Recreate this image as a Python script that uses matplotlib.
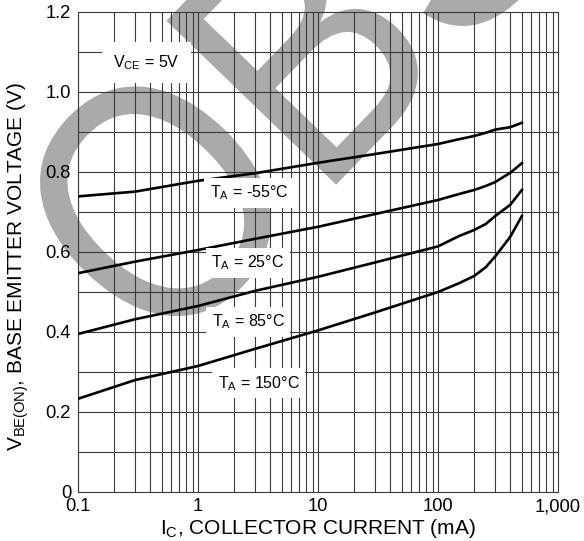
import matplotlib
matplotlib.use("Agg")
import matplotlib.pyplot as plt
import numpy as np
from matplotlib.textpath import TextPath
from matplotlib.patches import PathPatch
from matplotlib.transforms import Affine2D, IdentityTransform
from matplotlib.font_manager import FontProperties

plt.rcParams['font.family'] = ['Liberation Sans', 'DejaVu Sans']
plt.rcParams['mathtext.default'] = 'regular'

# collector current (mA)
ic = [0.1, 0.3, 1, 3, 10, 30, 100, 150, 200, 250, 300, 400, 500]
# V_BE(ON) (V) for each ambient temperature
vbe_m55 = [0.739, 0.751, 0.778, 0.797, 0.823, 0.845, 0.870, 0.882, 0.890, 0.898, 0.906, 0.912, 0.923]
vbe_25 = [0.547, 0.576, 0.605, 0.633, 0.663, 0.695, 0.730, 0.745, 0.755, 0.765, 0.775, 0.798, 0.822]
vbe_85 = [0.395, 0.432, 0.465, 0.503, 0.538, 0.574, 0.614, 0.640, 0.655, 0.670, 0.690, 0.718, 0.755]
vbe_150 = [0.233, 0.280, 0.315, 0.358, 0.404, 0.449, 0.500, 0.522, 0.540, 0.562, 0.589, 0.638, 0.690]

curves = [vbe_m55, vbe_25, vbe_85, vbe_150]
curve_labels = ['T$_A$ = -55°C', 'T$_A$ = 25°C', 'T$_A$ = 85°C', 'T$_A$ = 150°C']
label_pos = [(2.66, 0.7475), (2.6, 0.5725), (2.62, 0.425), (3.2, 0.272)]

xticks = [0.1, 1, 10, 100, 1000]
xticklabels = ['0.1', '1', '10', '100', '1,000']
yticks = [0, 0.2, 0.4, 0.6, 0.8, 1.0, 1.2]
yticklabels = ['0', '0.2', '0.4', '0.6', '0.8', '1.0', '1.2']

fig = plt.figure(figsize=(5.84, 5.41), dpi=100)
ax = fig.add_axes([78 / 584, 49 / 541, 480 / 584, 480 / 541])
ax.set_facecolor('none')

# big grey "OBSOLETE" stamp behind the plot (pixel coordinates)
tp = TextPath((0, 0), 'OBSOLETE', size=343, prop=FontProperties(family='Liberation Sans'))
tr = Affine2D().scale(0.85, 1.0).rotate_deg(46).translate(162, 176)
stamp = PathPatch(tr.transform_path(tp), facecolor='#aaaaaa', edgecolor='none',
                  transform=IdentityTransform(), zorder=-5)
fig.add_artist(stamp)

ax.set_xscale('log')
ax.set_xlim(0.1, 1000)
ax.set_ylim(0, 1.2)

# log grid: every decade subdivision plus every 0.1 V
for dec in [0.1, 1, 10, 100]:
    for m in range(1, 10):
        ax.axvline(dec * m, color='#3a3a3a', lw=0.8, zorder=1)
for v in np.arange(0.1, 1.2, 0.1):
    ax.axhline(v, color='#3a3a3a', lw=0.8, zorder=1)

for vals in curves:
    ax.plot(ic, vals, color='black', lw=1.9, zorder=3)

box = dict(facecolor='white', edgecolor='none', pad=4)
for txt, (x, y) in zip(curve_labels, label_pos):
    ax.text(x, y, txt, fontsize=11.5, ha='center', va='center', bbox=box, zorder=4)
ax.text(0.37, 1.073, 'V$_{CE}$ = 5V', fontsize=11.5, ha='center', va='center',
        bbox=dict(facecolor='white', edgecolor='none', pad=8), zorder=4)

ax.set_xticks(xticks)
ax.set_xticklabels(xticklabels)
ax.xaxis.set_minor_locator(matplotlib.ticker.NullLocator())
ax.set_yticks(yticks)
ax.set_yticklabels(yticklabels)
ax.tick_params(length=0, labelsize=13.2)
ax.tick_params(axis='x', pad=4.5)
ax.tick_params(axis='y', pad=5)
for s in ax.spines.values():
    s.set_color('#3a3a3a')
    s.set_linewidth(0.8)

ax.set_xlabel('I$_C$, COLLECTOR CURRENT (mA)', fontsize=15, labelpad=1)
ax.set_ylabel('V$_{BE(ON)}$, BASE EMITTER VOLTAGE (V)', fontsize=15)
ax.yaxis.set_label_coords(-0.097, 0.47)

fig.savefig('out.png', dpi=100)
